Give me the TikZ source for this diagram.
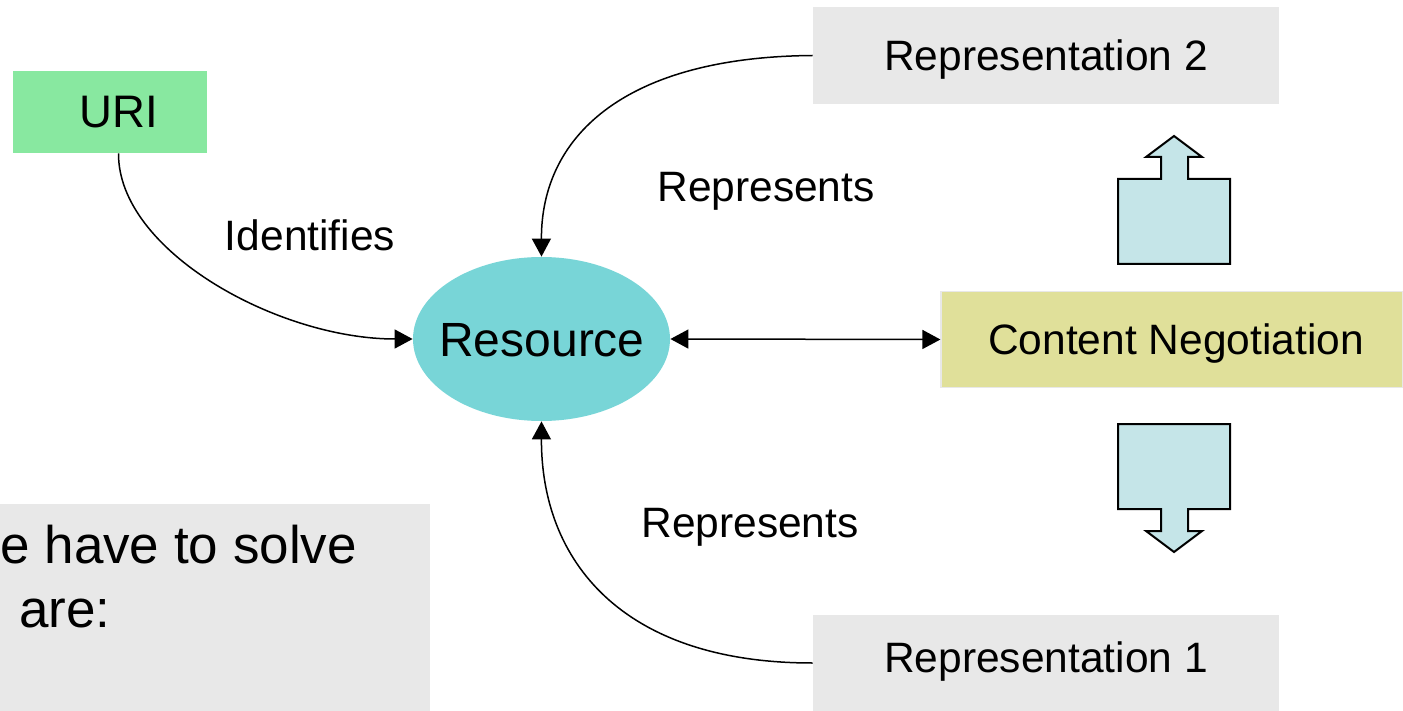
\documentclass[tikz,border=0pt]{standalone}
\usepackage{fontspec}
\setmainfont{Liberation Sans}
\usetikzlibrary{shapes.geometric,arrows.meta}

\definecolor{urigreen}{RGB}{136,232,160}
\definecolor{rescyan}{RGB}{120,213,215}
\definecolor{negyellow}{RGB}{224,224,154}
\definecolor{boxgrey}{RGB}{232,232,232}
\definecolor{blockblue}{RGB}{197,229,232}

\tikzset{
  txt/.style={inner sep=0pt, font=\fontsize{21.25pt}{25pt}\selectfont, text height=15.2pt, text depth=0pt},
  plainbox/.style={rectangle, inner sep=0pt, text depth=0pt},
  greybox/.style={plainbox, fill=boxgrey, minimum width=233pt, minimum height=48.5pt,
                  font=\fontsize{21.25pt}{25pt}\selectfont, text height=15.2pt},
  lbl/.style={inner sep=0pt, anchor=base, font=\fontsize{21.25pt}{25pt}\selectfont},
  paneltext/.style={inner sep=0pt, anchor=base west, font=\fontsize{26.5pt}{30pt}\selectfont},
  tip/.tip={Triangle[length=9pt,width=9.5pt]},
  link/.style={line width=0.75pt, -tip},
  blockarrow/.style={fill=blockblue, draw=black, line width=1pt, line join=miter},
}

\begin{document}
\begin{tikzpicture}[x=0.5pt, y=-0.5pt]
  \useasboundingbox (0,0) rectangle (1403,711);

  % text panel in the lower left
  \fill[boxgrey] (0,504) rectangle (430,711);
  \node[paneltext] (panelA) at (0,563) {e have to solve};
  \node[paneltext] (panelB) at (19,627) {are:};

  % main nodes
  \node[plainbox, fill=urigreen, minimum width=97pt, minimum height=41pt] (uri) at (110,112) {};
  \node[inner sep=0pt, font=\fontsize{22.8pt}{26pt}\selectfont, text height=16.3pt, text depth=0pt]
        (uritext) at (118.5,111) {URI};
  \node[ellipse, fill=rescyan, inner sep=0pt, minimum width=128.5pt, minimum height=82pt] (res) at (541.5,339) {};
  \node[inner sep=0pt, font=\fontsize{24pt}{28pt}\selectfont, text height=17.2pt, text depth=0pt] (restext) at (542,339) {Resource};
  \node[greybox] (rep2) at (1046,55.5) {Representation 2};
  \node[greybox, minimum height=48pt] (rep1) at (1046,663) {};
  \node[txt] (rep1text) at (1046,657.5) {Representation 1};
  \node[plainbox, fill=negyellow, draw=boxgrey, line width=0.6pt, minimum width=231pt, minimum height=48pt] (cn) at (1172,339.5) {};
  \node[txt] (cntext) at (1176,339) {Content Negotiation};

  % connectors
  \draw[link] (uritext.south |- uri.south) .. controls (118,251) and (278,339) .. (res.west);
  \draw[link] (rep2.west) .. controls (621,57) and (541,139) .. (res.north);
  \draw[link] (rep1.west) .. controls (621,663) and (541,560) .. (res.south);
  \draw[line width=0.75pt, tip-tip] (res.east) -- (cn.west);

  % connector labels
  \node[lbl] (lid) at (310,251) {Identifies};
  \node[lbl] (lrep2) at (766,202) {Represents};
  \node[lbl] (lrep1) at (750,537) {Represents};

  % block arrows around the negotiation box
  \draw[blockarrow] (1118,264) -- (1230,264) -- (1230,179) -- (1188,179) -- (1188,157)
        -- (1202,157) -- (1174,136) -- (1146,157) -- (1161,157) -- (1161,179) -- (1118,179) -- cycle;
  \draw[blockarrow] (1118,424) -- (1230,424) -- (1230,509) -- (1188,509) -- (1188,531)
        -- (1202,531) -- (1174,552) -- (1146,531) -- (1161,531) -- (1161,509) -- (1118,509) -- cycle;
\end{tikzpicture}
\end{document}
